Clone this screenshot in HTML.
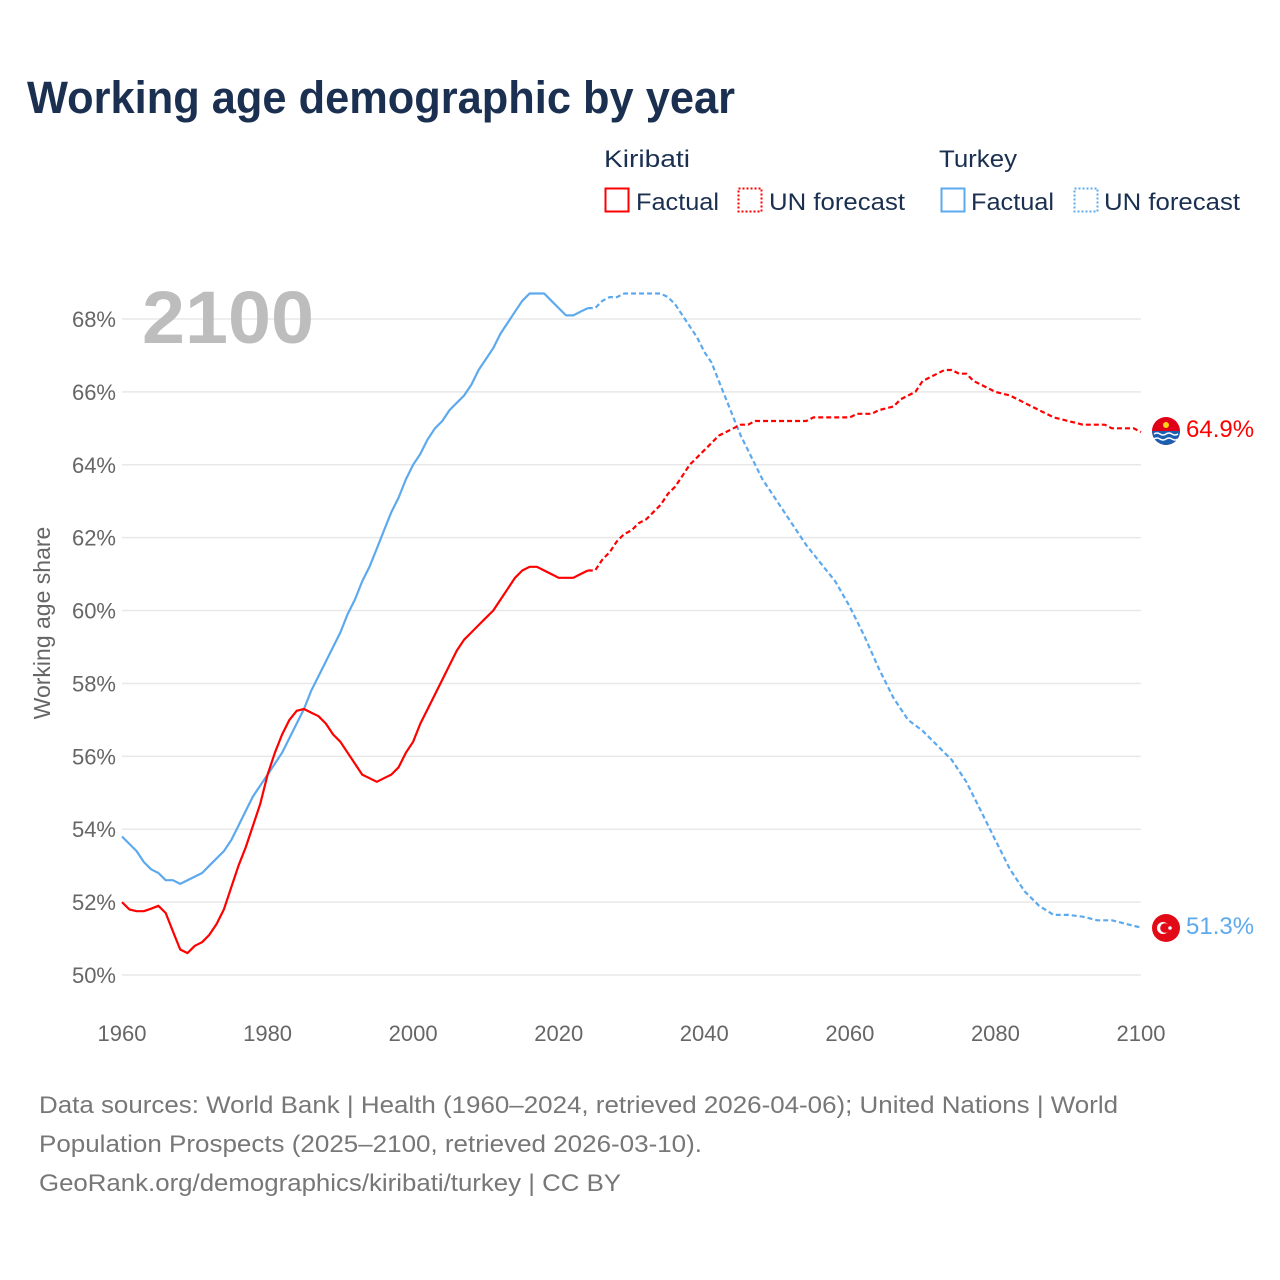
<!DOCTYPE html>
<html><head><meta charset="utf-8"><style>
html,body{margin:0;padding:0;background:#fff;width:1280px;height:1280px;overflow:hidden}
svg{display:block;font-family:"Liberation Sans",sans-serif}
</style></head><body>
<svg id="chart" width="1280" height="1280" viewBox="0 0 1280 1280">
<text x="27" y="113" font-size="45" font-weight="bold" fill="#1b3050" textLength="708" lengthAdjust="spacingAndGlyphs">Working age demographic by year</text>
<g>
<text x="604" y="167" font-size="24" fill="#1b3050" textLength="86" lengthAdjust="spacingAndGlyphs">Kiribati</text>
<text x="939" y="167" font-size="24" fill="#1b3050" textLength="78" lengthAdjust="spacingAndGlyphs">Turkey</text>
<g><rect x="605.5" y="188.5" width="23" height="23" fill="none" stroke="#f00" stroke-width="2"/><text x="636" y="210" font-size="24" fill="#1b3050" textLength="83" lengthAdjust="spacingAndGlyphs">Factual</text></g>
<g><rect x="738.5" y="188.5" width="23" height="23" fill="none" stroke="#f00" stroke-width="2" stroke-dasharray="2,2"/><text x="769" y="210" font-size="24" fill="#1b3050" textLength="136" lengthAdjust="spacingAndGlyphs">UN forecast</text></g>
<g><rect x="941.5" y="188.5" width="23" height="23" fill="none" stroke="#5da9ee" stroke-width="2"/><text x="971" y="210" font-size="24" fill="#1b3050" textLength="83" lengthAdjust="spacingAndGlyphs">Factual</text></g>
<g><rect x="1074.5" y="188.5" width="23" height="23" fill="none" stroke="#5da9ee" stroke-width="2" stroke-dasharray="2,2"/><text x="1104" y="210" font-size="24" fill="#1b3050" textLength="136" lengthAdjust="spacingAndGlyphs">UN forecast</text></g>
</g>
<g id="grid"></g>
<text x="142" y="343" font-size="74" font-weight="bold" fill="#bdbdbd" textLength="172" lengthAdjust="spacingAndGlyphs">2100</text>
<g id="yticks"></g>
<g id="xticks"></g>
<text transform="translate(50,623) rotate(-90)" text-anchor="middle" font-size="23" fill="#666">Working age share</text>
<g id="series"></g>
<g>
<circle cx="1166" cy="431" r="14" fill="#e0001a"/>
<path d="M1152 431 h28 a14 14 0 0 1 -28 0z" fill="#1c5fb0"/>
<path d="M1154 434 q3 -2 6 0 t6 0 t6 0 t6 0 M1154 439 q3 -2 6 0 t6 0 t6 0 t6 0" stroke="#fff" stroke-width="1.4" fill="none"/>
<circle cx="1166" cy="425" r="3" fill="#fcd116"/>
<text x="1186" y="437" font-size="24" fill="#f00">64.9%</text>
</g>
<g>
<circle cx="1166" cy="928" r="14" fill="#e30a17"/>
<circle cx="1163" cy="928" r="6" fill="#fff"/><circle cx="1165" cy="928" r="4.8" fill="#e30a17"/>
<circle cx="1170" cy="928" r="1.8" fill="#fff"/>
<text x="1186" y="934" font-size="24" fill="#5da9ee">51.3%</text>
</g>
<g font-size="24" fill="#777">
<text x="39" y="1113" textLength="1079" lengthAdjust="spacingAndGlyphs">Data sources: World Bank | Health (1960–2024, retrieved 2026-04-06); United Nations | World</text>
<text x="39" y="1152" textLength="663" lengthAdjust="spacingAndGlyphs">Population Prospects (2025–2100, retrieved 2026-03-10).</text>
<text x="39" y="1191" textLength="582" lengthAdjust="spacingAndGlyphs">GeoRank.org/demographics/kiribati/turkey | CC BY</text>
</g>
</svg>
<script>
const yTicks=[50,52,54,56,58,60,62,64,66,68];
const xTicks=[1960,1980,2000,2020,2040,2060,2080,2100];
const kirFactYears=[1960,1961,1962,1963,1964,1965,1966,1967,1968,1969,1970,1971,1972,1973,1974,1975,1976,1977,1978,1979,1980,1981,1982,1983,1984,1985,1986,1987,1988,1989,1990,1991,1992,1993,1994,1995,1996,1997,1998,1999,2000,2001,2002,2003,2004,2005,2006,2007,2008,2009,2010,2011,2012,2013,2014,2015,2016,2017,2018,2019,2020,2021,2022,2023,2024];
const kirFactValues=[52.0,51.8,51.75,51.75,51.82,51.9,51.7,51.2,50.7,50.6,50.8,50.9,51.1,51.4,51.8,52.4,53.0,53.5,54.1,54.7,55.5,56.1,56.6,57.0,57.25,57.3,57.2,57.1,56.9,56.6,56.4,56.1,55.8,55.5,55.4,55.3,55.4,55.5,55.7,56.1,56.4,56.9,57.3,57.7,58.1,58.5,58.9,59.2,59.4,59.6,59.8,60.0,60.3,60.6,60.9,61.1,61.2,61.2,61.1,61.0,60.9,60.9,60.9,61.0,61.1];
const kirFcYears=[2024,2025,2026,2027,2028,2029,2030,2031,2032,2033,2034,2035,2036,2037,2038,2039,2040,2041,2042,2043,2044,2045,2046,2047,2050,2054,2055,2060,2061,2063,2064,2066,2067,2069,2070,2072,2073,2074,2075,2076,2077,2079,2080,2082,2085,2088,2090,2092,2095,2096,2099,2100];
const kirFcValues=[61.1,61.1,61.4,61.6,61.9,62.1,62.2,62.4,62.5,62.7,62.9,63.2,63.4,63.7,64.0,64.2,64.4,64.6,64.8,64.9,65.0,65.1,65.1,65.2,65.2,65.2,65.3,65.3,65.4,65.4,65.5,65.6,65.8,66.0,66.3,66.5,66.6,66.6,66.5,66.5,66.3,66.1,66.0,65.9,65.6,65.3,65.2,65.1,65.1,65.0,65.0,64.9];
const turFactYears=[1960,1962,1963,1964,1965,1966,1967,1968,1970,1971,1972,1974,1975,1976,1977,1978,1980,1981,1982,1983,1984,1985,1986,1987,1988,1989,1990,1991,1992,1993,1994,1995,1996,1997,1998,1999,2000,2001,2002,2003,2004,2005,2006,2007,2008,2009,2010,2011,2012,2013,2014,2015,2016,2017,2018,2019,2020,2021,2022,2023,2024];
const turFactValues=[53.8,53.4,53.1,52.9,52.8,52.6,52.6,52.5,52.7,52.8,53.0,53.4,53.7,54.1,54.5,54.9,55.5,55.8,56.1,56.5,56.9,57.3,57.8,58.2,58.6,59.0,59.4,59.9,60.3,60.8,61.2,61.7,62.2,62.7,63.1,63.6,64.0,64.3,64.7,65.0,65.2,65.5,65.7,65.9,66.2,66.6,66.9,67.2,67.6,67.9,68.2,68.5,68.7,68.7,68.7,68.5,68.3,68.1,68.1,68.2,68.3];
const turFcYears=[2024,2025,2026,2027,2028,2029,2034,2035,2036,2037,2038,2039,2040,2041,2042,2043,2044,2045,2046,2047,2048,2050,2052,2054,2056,2058,2060,2062,2064,2066,2068,2070,2072,2074,2076,2078,2080,2082,2084,2086,2088,2090,2092,2094,2096,2098,2100];
const turFcValues=[68.3,68.3,68.5,68.6,68.6,68.7,68.7,68.6,68.4,68.1,67.8,67.5,67.1,66.8,66.3,65.8,65.3,64.8,64.4,64.0,63.6,63.0,62.4,61.8,61.3,60.8,60.1,59.3,58.4,57.6,57.0,56.7,56.3,55.9,55.3,54.5,53.7,52.9,52.3,51.9,51.65,51.65,51.6,51.5,51.5,51.4,51.3];

const NS="http://www.w3.org/2000/svg";
const X0=122,X1=1141,Y0=975,Y1=319;
function xScale(yr){return X0+(yr-1960)*(X1-X0)/140;}
function yScale(v){return Y0-(v-50)*(Y0-Y1)/18;}
const grid=document.getElementById('grid'),yg=document.getElementById('yticks'),xg=document.getElementById('xticks'),sg=document.getElementById('series');
yTicks.forEach(t=>{
  const l=document.createElementNS(NS,'line');
  l.setAttribute('x1',X0);l.setAttribute('x2',X1);l.setAttribute('y1',yScale(t));l.setAttribute('y2',yScale(t));
  l.setAttribute('stroke','#e8e8e8');l.setAttribute('stroke-width','1.5');
  
  
  grid.appendChild(l);
  const tx=document.createElementNS(NS,'text');
  tx.setAttribute('x',116);tx.setAttribute('y',yScale(t)+8);tx.setAttribute('text-anchor','end');
  tx.setAttribute('font-size','22');tx.setAttribute('fill','#666');tx.textContent=t+'%';
  
  
  yg.appendChild(tx);
});
xTicks.forEach(t=>{
  const tx=document.createElementNS(NS,'text');
  tx.setAttribute('x',xScale(t));tx.setAttribute('y',1041);tx.setAttribute('text-anchor','middle');
  tx.setAttribute('font-size','22');tx.setAttribute('fill','#666');tx.textContent=t;
  
  
  xg.appendChild(tx);
});
function line(years,vals,color,dash,name){
  const p=document.createElementNS(NS,'polyline');
  p.setAttribute('points',years.map((y,i)=>xScale(y).toFixed(1)+','+yScale(vals[i]).toFixed(1)).join(' '));
  p.setAttribute('fill','none');p.setAttribute('stroke',color);p.setAttribute('stroke-width','2.2');
  p.setAttribute('stroke-linejoin','round');
  if(dash)p.setAttribute('stroke-dasharray',dash);
  
  
  sg.appendChild(p);
}
line(turFactYears,turFactValues,'#5da9ee',null,'turkey-factual-line');
line(turFcYears,turFcValues,'#5da9ee','5,3','turkey-forecast-line');
line(kirFactYears,kirFactValues,'#f00',null,'kiribati-factual-line');
line(kirFcYears,kirFcValues,'#f00','5,3','kiribati-forecast-line');
</script>
</body></html>
